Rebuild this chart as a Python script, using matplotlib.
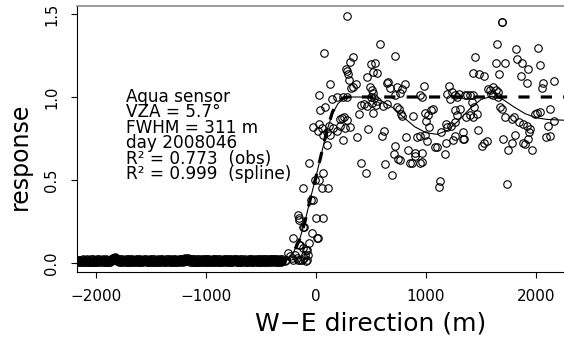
import matplotlib
matplotlib.use("Agg")
import matplotlib.pyplot as plt

# ---------------- data ----------------
band_x = [-2170,-2160,-2150,-2140,-2130,-2120,-2110,-2100,-2090,-2080,
          -2070,-2060,-2050,-2040,-2030,-2020,-2010,-2000,-1990,-1980,
          -1970,-1960,-1950,-1940,-1930,-1920,-1910,-1900,-1890,-1880,
          -1870,-1860,-1850,-1840,-1830,-1820,-1810,-1800,-1790,-1780,
          -1770,-1760,-1750,-1740,-1730,-1720,-1710,-1700,-1690,-1680,
          -1670,-1660,-1650,-1640,-1630,-1620,-1610,-1600,-1590,-1580,
          -1570,-1560,-1550,-1540,-1530,-1520,-1510,-1500,-1490,-1480,
          -1470,-1460,-1450,-1440,-1430,-1420,-1410,-1400,-1390,-1380,
          -1370,-1360,-1350,-1340,-1330,-1320,-1310,-1300,-1290,-1280,
          -1270,-1260,-1250,-1240,-1230,-1220,-1210,-1200,-1190,-1180,
          -1170,-1160,-1150,-1140,-1130,-1120,-1110,-1100,-1090,-1080,
          -1070,-1060,-1050,-1040,-1030,-1020,-1010,-1000,-990,-980,
          -970,-960,-950,-940,-930,-920,-910,-900,-890,-880,
          -870,-860,-850,-840,-830,-820,-810,-800,-790,-780,
          -770,-760,-750,-740,-730,-720,-710,-700,-690,-680,
          -670,-660,-650,-640,-630,-620,-610,-600,-590,-580,
          -570,-560,-550,-540,-530,-520,-510,-500,-490,-480,
          -470,-460,-450,-440,-430,-420,-410,-400,-390,-380,
          -370,-360,-350,-340,-330,-320,-310]
band_y = [0.012,0.018,0.009,0.015,0.021,0.008,0.014,0.011,0.017,0.010,
          0.013,0.019,0.007,0.015,0.011,0.020,0.009,0.016,0.012,0.014,
          0.010,0.017,0.013,0.008,0.015,0.019,0.011,0.014,0.009,0.016,
          0.020,0.024,0.028,0.031,0.029,0.025,0.021,0.016,0.012,0.010,
          0.015,0.008,0.013,0.018,0.011,0.014,0.009,0.016,0.012,0.019,
          0.010,0.014,0.007,0.013,0.017,0.011,0.015,0.009,0.018,0.012,
          0.016,0.010,0.013,0.019,0.008,0.014,0.011,0.017,0.012,0.015,
          0.009,0.013,0.018,0.011,0.016,0.020,0.014,0.010,0.017,0.012,
          0.015,0.008,0.012,0.018,0.011,0.014,0.019,0.010,0.016,0.013,
          0.009,0.015,0.012,0.017,0.010,0.014,0.019,0.022,0.025,0.023,
          0.027,0.024,0.020,0.016,0.012,0.015,0.009,0.013,0.018,0.011,
          0.014,0.008,0.016,0.012,0.019,0.010,0.015,0.013,0.009,0.017,
          0.011,0.014,0.018,0.009,0.013,0.016,0.010,0.020,0.012,0.015,
          0.008,0.014,0.017,0.011,0.013,0.019,0.010,0.015,0.012,0.018,
          0.009,0.016,0.012,0.014,0.020,0.011,0.013,0.017,0.008,0.015,
          0.012,0.018,0.010,0.014,0.021,0.016,0.011,0.013,0.009,0.017,
          0.014,0.010,0.019,0.012,0.015,0.008,0.016,0.013,0.018,0.011,
          0.015,0.012,0.009,0.017,0.013,0.020,0.010,0.014,0.016,0.011,
          0.013,0.018,0.009,0.015,0.012,0.017,0.010]
band_y2 = [0.020,0.006,0.016,0.004,0.011,0.023,0.005,0.019,0.005,0.022,
           0.006,0.004,0.023,0.005,0.024,0.004,0.021,0.005,0.023,0.006,
           0.022,0.005,0.020,0.024,0.004,0.006,0.023,0.005,0.021,0.005,
           0.008,0.012,0.032,0.018,0.034,0.033,0.010,0.026,0.005,0.022,
           0.005,0.023,0.021,0.005,0.024,0.004,0.022,0.005,0.023,0.005,
           0.022,0.004,0.021,0.024,0.005,0.022,0.005,0.023,0.005,0.021,
           0.004,0.022,0.024,0.005,0.021,0.005,0.023,0.004,0.024,0.005,
           0.022,0.005,0.006,0.024,0.004,0.007,0.022,0.023,0.005,0.021,
           0.005,0.022,0.023,0.005,0.024,0.004,0.006,0.022,0.005,0.023,
           0.021,0.005,0.023,0.005,0.022,0.024,0.006,0.010,0.030,0.012,
           0.014,0.031,0.008,0.026,0.004,0.022,0.023,0.005,0.006,0.024,
           0.004,0.022,0.005,0.024,0.006,0.023,0.005,0.024,0.022,0.005,
           0.023,0.005,0.006,0.022,0.024,0.005,0.022,0.007,0.023,0.005,
           0.022,0.005,0.005,0.023,0.024,0.006,0.022,0.005,0.024,0.005,
           0.023,0.005,0.022,0.024,0.006,0.023,0.005,0.005,0.022,0.004,
           0.023,0.005,0.022,0.005,0.007,0.004,0.024,0.022,0.023,0.005,
           0.004,0.023,0.006,0.024,0.005,0.022,0.005,0.024,0.006,0.022,
           0.005,0.024,0.023,0.005,0.022,0.006,0.024,0.022,0.005,0.023,
           0.024,0.006,0.022,0.005,0.023,0.005,0.022]

obs = [
    # transition
    (-285,0.01),(-270,0.02),(-255,0.06),(-236,0.04),(-220,0.03),(-205,0.02),(-191,0.05),
    (-173,0.03),(-160,0.02),(-145,0.02),(-127,0.02),(-110,0.03),(-95,0.01),(-80,0.02),
    (-209,0.15),(-155,0.11),(-145,0.11),(-118,0.09),(-91,0.08),(-82,0.08),(-100,0.05),
    (-70,0.05),(-60,0.12),(-36,0.18),(9,0.15),(18,0.15),(-118,0.22),(-106,0.22),
    (-164,0.29),(-155,0.27),(-152,0.26),(0,0.27),(64,0.27),(-48,0.38),(-24,0.38),
    (-118,0.45),(55,0.45),(109,0.45),(-9,0.50),(30,0.50),(64,0.54),(-64,0.60),
    (64,0.77),(100,0.71),(409,0.60),(455,0.54),
    # upper left cluster
    (279,1.49),(73,1.267),(333,1.239),(309,1.209),(273,1.167),(279,1.157),(294,1.139),
    (497,1.199),(467,1.119),(521,1.152),(303,1.102),(364,1.078),(127,1.076),(315,1.052),
    (333,1.058),(491,1.058),(506,1.042),(521,1.026),(30,1.012),(142,0.988),(194,0.998),
    (243,1.0),(279,1.0),(406,0.952),(436,0.958),(467,0.946),(506,0.966),(36,0.922),
    (82,0.938),(394,0.898),(515,0.902),(233,0.872),(218,0.866),(255,0.878),(285,0.861),
    (-24,0.821),(30,0.837),(52,0.811),(21,0.797),(121,0.825),(158,0.811),(188,0.797),
    (218,0.825),(264,0.811),(309,0.821),(248,0.741),(376,0.761),(476,0.805),(103,0.79),
    (127,0.771),(500,1.0),(525,0.995),
    # middle
    (582,1.317),(718,1.245),(536,1.207),(557,1.146),(657,1.092),(648,1.086),(673,1.052),
    (733,1.058),(779,1.046),(809,1.078),(718,1.012),(764,1.026),(982,1.066),(945,1.012),
    (961,1.0),(1212,1.066),(1190,1.02),(1215,0.99),(1240,1.03),(1265,1.01),(1285,1.0),
    (1300,1.02),(552,0.978),(545,0.952),(606,0.946),(642,0.958),(733,0.938),(758,0.926),
    (770,0.90),(779,0.886),(879,0.886),(991,0.905),(1021,0.892),(1042,0.922),(1067,0.926),
    (1000,0.857),(1030,0.82),(1182,0.837),(1194,0.817),(1224,0.825),(1264,0.851),
    (1264,0.922),(1285,0.892),(1309,0.926),(1133,0.79),(618,0.795),
    # right upper
    (1688,1.454),(1693,1.45),(1642,1.317),(1818,1.287),(2021,1.297),(1445,1.239),
    (1636,1.207),(1718,1.207),(1830,1.227),(1870,1.207),(1930,1.169),(2036,1.193),
    (1430,1.146),(1485,1.139),(1527,1.127),(1667,1.139),(1861,1.127),(1915,1.082),
    (2052,1.052),(2061,1.086),(2164,1.096),(1564,1.05),(1585,1.04),(1610,1.06),
    (1640,1.04),(1655,1.03),(1595,1.02),(1610,1.01),(1354,1.01),(1370,1.012),
    (1400,1.015),(1430,1.015),(1658,1.0),(1415,0.97),(1436,0.94),(1400,0.89),
    (1460,0.90),(1430,0.88),(1364,0.88),(1673,0.94),(1688,0.926),(1718,0.88),
    (1779,0.87),(1800,0.878),(1848,0.85),(1885,0.837),(1915,0.825),(1945,0.81),
    (1991,0.90),(2012,0.905),(2036,0.91),(2127,0.93),(2164,0.857),(2112,0.825),
    # lower
    (597,0.765),(818,0.76),(915,0.757),(945,0.765),(991,0.77),(1012,0.737),(1082,0.70),
    (1097,0.70),(1182,0.72),(1242,0.74),(1264,0.765),(1333,0.75),(718,0.705),(709,0.657),
    (748,0.625),(764,0.62),(839,0.68),(900,0.665),(900,0.645),(961,0.66),(855,0.60),
    (870,0.60),(945,0.605),(961,0.61),(627,0.596),(688,0.53),(1173,0.657),(1127,0.496),
    (1121,0.456),
    (1339,0.79),(1345,0.745),(1476,0.80),(1506,0.705),(1527,0.72),(1558,0.737),
    (1697,0.75),(1779,0.725),(1809,0.77),(1748,0.68),(1885,0.72),(1900,0.717),
    (1930,0.75),(1939,0.79),(1961,0.683),(2091,0.757),(2127,0.765),(1733,0.476),
]
obs_x = band_x + band_x + [p[0] for p in obs]
obs_y = band_y + band_y2 + [p[1] for p in obs]

spline_x = [-2170,-400,-300,-250,-200,-150,-100,-50,0,50,100,150,200,250,300,400,500,
            600,700,800,900,1000,1100,1200,1300,1400,1500,1600,1700,1800,1900,2000,2100,2260]
spline_y = [0.01,0.01,0.015,0.03,0.07,0.14,0.25,0.39,0.52,0.66,0.80,0.90,0.96,0.99,1.0,1.0,0.995,
            0.975,0.935,0.875,0.82,0.785,0.775,0.80,0.86,0.93,0.985,1.005,0.985,0.94,0.90,0.875,0.865,0.86]

model_x = [-2170,-400,-300,-250,-200,-150,-100,-50,0,50,100,150,200,250,300,2260]
model_y = [0.0,0.0,0.01,0.03,0.07,0.14,0.25,0.39,0.52,0.66,0.80,0.91,0.97,0.995,1.0,1.0]

xticks = [-2000, -1000, 0, 1000, 2000]
xtick_labels = ["\u22122000", "\u22121000", "0", "1000", "2000"]
yticks = [0.0, 0.5, 1.0, 1.5]
ytick_labels = ["0.0", "0.5", "1.0", "1.5"]

info_lines = ["Aqua sensor", "VZA = 5.7\u00b0", "FWHM = 311 m", "day 2008046",
              "R\u00b2 = 0.773  (obs)", "R\u00b2 = 0.999  (spline)"]

# ---------------- plot ----------------
W, H = 564, 345
fig = plt.figure(figsize=(W/100, H/100), dpi=100)
ax = fig.add_axes([77/W, (H-272)/H, 1 - 77/W, (272-6)/H])

ax.plot(obs_x, obs_y, 'o', mfc='none', mec='black', ms=5.4, mew=0.8, zorder=2)
ax.plot(model_x, model_y, color='black', lw=2.3, linestyle=(0, (3.5, 3.5)), zorder=3)
ax.plot(spline_x, spline_y, color='black', lw=0.8, zorder=4)

ax.set_xlim(-2173, 2255)
ax.set_ylim(-0.054, 1.548)
ax.set_xticks(xticks)
ax.set_xticklabels(xtick_labels)
ax.set_yticks(yticks)
ax.set_yticklabels(ytick_labels, rotation=90, va='center')
ax.tick_params(axis='x', length=4.5, width=0.8, pad=8, labelsize=11)
ax.tick_params(axis='y', length=4, width=0.8, pad=9, labelsize=10.5)

ax.spines['right'].set_visible(False)
ax.spines['top'].set_color('#8a8a8a')
ax.spines['top'].set_linewidth(1.2)
for s in ('left', 'bottom'):
    ax.spines[s].set_linewidth(0.8)

for i, line in enumerate(info_lines):
    baseline = 101.7 + i * 15.5
    fig.text(126/W, 1 - baseline/H, line, fontsize=12.2, ha='left', va='baseline')

fig.text(371/W, 1 - 324/H, "W\u2212E direction (m)", fontsize=18, ha='center', va='center')
fig.text(20/W, 1 - 156/H, "response", fontsize=17, ha='center', va='center', rotation=90)

fig.savefig("out.png", dpi=100)
